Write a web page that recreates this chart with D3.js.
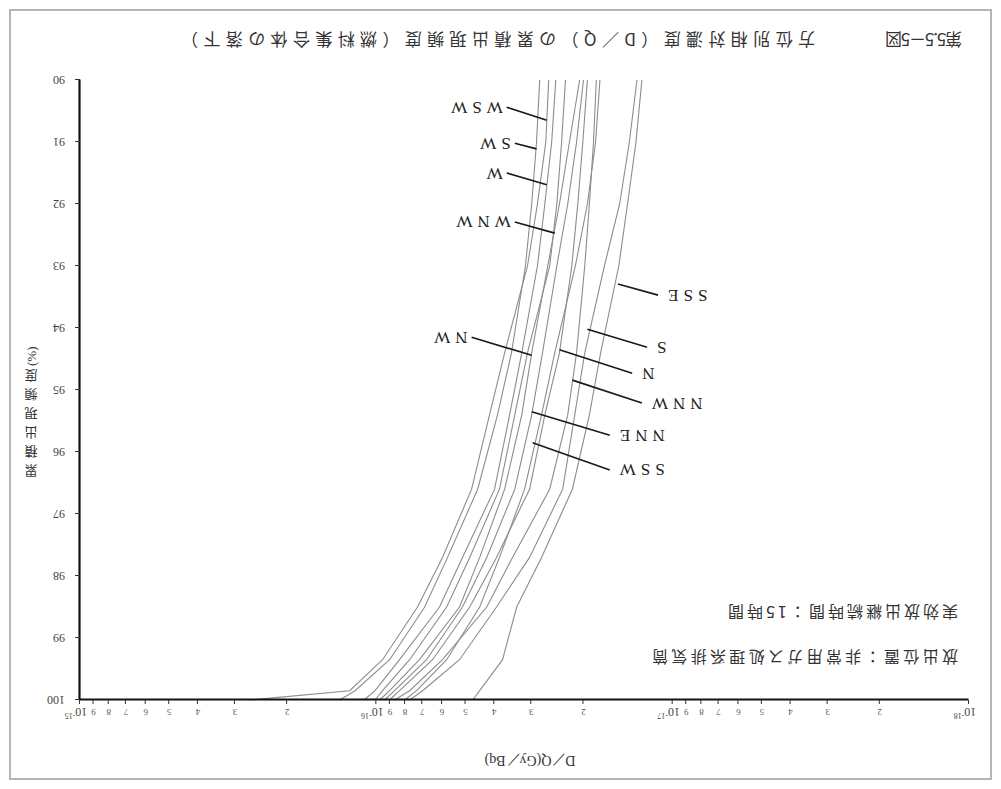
<!DOCTYPE html>
<html><head><meta charset="utf-8">
<script src="https://cdn.jsdelivr.net/npm/d3@7"></script>
<style>body{margin:0;background:#fff}</style>
</head><body>
<svg id="chart" width="1001" height="789"></svg>
<script>
// ---------- data (D/Q values in units of 1e-17 Gy/Bq) ----------
const unit = 1e-17;
const levels = [90, 91, 92, 93, 94.4, 95.4, 96.6, 97.7, 98.5, 99.35, 99.85, 100];
const directions = ["WSW", "SW", "W", "WNW", "NW", "N", "NNW", "NNE", "SSW", "S", "SSE"];
const dqWSW = [2.62, 2.68, 2.86, 3.09, 3.69, 4.15, 4.77, 5.98, 7.26, 9.53, 12.3, 26.8];
const dqSW  = [2.81, 2.88, 2.99, 3.14, 3.50, 3.90, 4.55, 5.75, 6.87, 9.02, 11.8, 13.3];
const dqW   = [2.48, 2.56, 2.70, 2.86, 3.23, 3.55, 3.99, 5.12, 6.12, 8.35, 10.1, 11.0];
const dqWNW = [2.30, 2.37, 2.46, 2.60, 3.09, 3.41, 3.84, 4.84, 5.79, 7.72, 9.53, 10.1];
const dqNW  = [2.06, 2.23, 2.41, 2.64, 2.99, 3.23, 3.69, 4.48, 5.24, 7.15, 9.02, 9.75];
const dqN   = [1.94, 2.01, 2.09, 2.19, 2.41, 2.70, 3.04, 3.93, 4.84, 6.46, 8.35, 9.02];
const dqNNW = [1.81, 1.85, 1.91, 1.98, 2.11, 2.26, 2.60, 3.47, 4.24, 5.98, 7.72, 8.68];
const dqNNE = [2.00, 2.11, 2.26, 2.46, 2.75, 2.99, 3.41, 4.24, 5.12, 6.77, 8.68, 9.38];
const dqSSW = [1.76, 1.82, 1.94, 2.13, 2.50, 2.77, 3.16, 3.84, 4.48, 5.79, 7.31, 8.03];
const dqS   = [1.32, 1.40, 1.51, 1.70, 1.98, 2.14, 2.35, 3.04, 3.93, 5.24, 6.98, 7.72];
const dqSSE = [1.27, 1.33, 1.42, 1.52, 1.75, 1.91, 2.18, 2.77, 3.36, 3.75, 4.48, 4.73];
const seriesValues = [dqWSW, dqSW, dqW, dqWNW, dqNW, dqN, dqNNW, dqNNE, dqSSW, dqS, dqSSE];

// label leaders: tip on curve and outer end, both in data units
const labelTipDQ  = [2.66, 2.88, 2.66, 2.50, 2.99, 2.41, 2.18, 2.99, 2.97, 1.94, 1.53];
const labelTipPct = [90.65, 91.11, 91.69, 92.47, 94.44, 94.35, 94.84, 95.35, 95.85, 94.02, 93.29];
const labelEndDQ  = [3.63, 3.41, 3.63, 3.41, 4.77, 1.37, 1.27, 1.63, 1.63, 1.22, 1.12];
const labelEndPct = [90.44, 91.02, 91.5, 92.29, 94.15, 94.73, 95.21, 95.73, 96.29, 94.31, 93.47];

const yTicks = [90, 91, 92, 93, 94, 95, 96, 97, 98, 99, 100];
const decadeExps = [-18, -17, -16, -15];
const minorMults = [2, 3, 4, 5, 6, 7, 8, 9];

const titleNo = "第5.5－5図";
const titleMain = "方位別相対濃度（D／Q）の累積出現頻度（燃料集合体の落下）";
const noteLines = ["放出位置：非常用ガス処理系排気筒", "実効放出継続時間：15時間"];
const xTitle = "D／Q(Gy／Bq)";
const yTitleChars = ["累", "積", "出", "現", "頻", "度"];
const yTitleUnit = "(%)";

// ---------- drawing ----------
const svg = d3.select("#chart");
svg.append("rect").attr("width", 1001).attr("height", 789).attr("fill", "#fff");
const g = svg.append("g").attr("transform", "rotate(180 500.5 394.5)");

g.append("rect").attr("x", 10).attr("y", 10).attr("width", 981).attr("height", 769)
  .attr("fill", "none").attr("stroke", "#b5b5b5").attr("stroke-width", 2);

const x = d3.scaleLog().domain([1e-18, 1e-15]).range([32, 921]);
const y = d3.scaleLinear().domain([90, 100]).range([709, 89]);

const serif = "'Liberation Serif','DejaVu Serif',serif";
const cjk = "'Noto Sans CJK JP','Noto Sans CJK SC',sans-serif";

// curves
const line = d3.line().x(d => x(d.v)).y(d => y(d.p));
directions.forEach((dir, i) => {
  const pts = levels.map((p, j) => ({p, v: seriesValues[i][j] * unit}));
  g.append("path").datum(pts).attr("d", line)
    .attr("fill", "none").attr("stroke", "#8c8c8c").attr("stroke-width", 1.1);
});

// x axis (top in unrotated frame)
const xTickVals = [];
decadeExps.forEach((e, k) => {
  xTickVals.push(Math.pow(10, e));
  if (k < decadeExps.length - 1) minorMults.forEach(m => xTickVals.push(m * Math.pow(10, e)));
});
const xAxis = g.append("g").attr("transform", "translate(0,89)")
  .call(d3.axisTop(x).tickValues(xTickVals).tickSize(4).tickSizeOuter(0).tickFormat(""));
xAxis.select(".domain").attr("stroke-width", 2.2).attr("stroke", "#111");
xAxis.selectAll(".tick line").attr("stroke", "#333");
xTickVals.forEach(v => {
  const e = Math.floor(Math.log10(v) + 1e-9);
  const m = Math.round(v / Math.pow(10, e));
  if (m === 1) {
    const t = g.append("text").attr("x", x(v) + 4).attr("y", 81)
      .attr("text-anchor", "middle").attr("font-family", serif).attr("font-size", 12).attr("fill", "#444");
    t.append("tspan").text("10");
    t.append("tspan").attr("font-size", 8).attr("dy", -5).text(String(e));
  } else {
    g.append("text").attr("x", x(v)).attr("y", 80).attr("text-anchor", "middle")
      .attr("font-family", serif).attr("font-size", 9).attr("fill", "#555").text(m);
  }
});

// y axis (right in unrotated frame)
const yAxis = g.append("g").attr("transform", "translate(921,0)")
  .call(d3.axisRight(y).tickValues(yTicks).tickSize(5).tickSizeOuter(0).tickPadding(10));
yAxis.select(".domain").attr("stroke-width", 2.2).attr("stroke", "#111");
yAxis.selectAll(".tick line").attr("stroke", "#333");
yAxis.selectAll(".tick text").attr("font-family", serif).attr("font-size", 12).attr("fill", "#444");

// axis titles
g.append("text").attr("x", 471).attr("y", 29).attr("text-anchor", "middle")
  .attr("dominant-baseline", "central").attr("font-family", serif).attr("font-size", 14)
  .attr("fill", "#333").text(xTitle);
yTitleChars.forEach((c, i) => {
  g.append("text").attr("x", 970).attr("y", 318 + i * 19).attr("text-anchor", "middle")
    .attr("dominant-baseline", "central").attr("font-family", cjk).attr("font-size", 13)
    .attr("fill", "#333").text(c);
});
g.append("text").attr("transform", `translate(970,${318 + 6 * 19 - 9}) rotate(90)`)
  .attr("dominant-baseline", "central").attr("font-family", serif).attr("font-size", 13)
  .attr("fill", "#333").text(yTitleUnit);

// labels with leaders
directions.forEach((dir, i) => {
  const tx = x(labelTipDQ[i] * unit), ty = y(labelTipPct[i]);
  const ex = x(labelEndDQ[i] * unit), ey = y(labelEndPct[i]);
  g.append("line").attr("x1", ex).attr("y1", ey).attr("x2", tx).attr("y2", ty)
    .attr("stroke", "#1a1a1a").attr("stroke-width", 1.7);
  const rightSide = ex > tx;
  g.append("text").attr("x", rightSide ? ex + 4 : ex - 5).attr("y", ey)
    .attr("text-anchor", rightSide ? "start" : "end").attr("dominant-baseline", "central")
    .attr("font-family", serif).attr("font-size", 17).attr("letter-spacing", 5)
    .attr("fill", "#222").text(dir);
});

// notes
noteLines.forEach((s, i) => {
  g.append("text").attr("x", 43).attr("y", 131 + i * 45).attr("dominant-baseline", "central")
    .attr("font-family", cjk).attr("font-size", 16).attr("fill", "#333")
    .attr("textLength", i === 0 ? 306 : 230).attr("lengthAdjust", "spacing").text(s);
});

// title
g.append("text").attr("x", 39).attr("y", 749).attr("dominant-baseline", "central")
  .attr("font-family", cjk).attr("font-size", 17).attr("fill", "#333")
  .attr("textLength", 77).attr("lengthAdjust", "spacing").text(titleNo);
g.append("text").attr("x", 186).attr("y", 749).attr("dominant-baseline", "central")
  .attr("font-family", cjk).attr("font-size", 17).attr("fill", "#333")
  .attr("textLength", 634).attr("lengthAdjust", "spacing").text(titleMain);
</script>
</body></html>
